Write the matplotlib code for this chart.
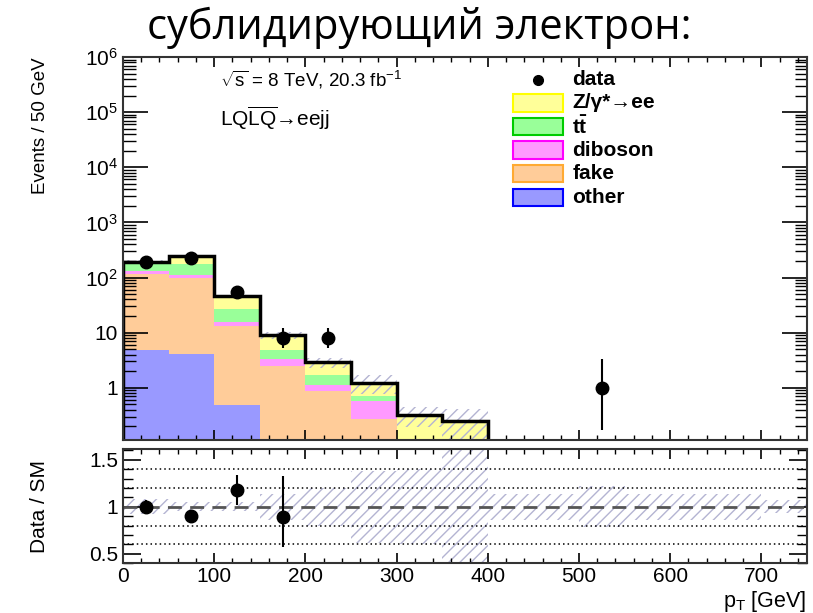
import numpy as np
import matplotlib
matplotlib.use('Agg')
import matplotlib.pyplot as plt
from matplotlib.patches import Rectangle
from matplotlib.ticker import FixedLocator, MultipleLocator, LogLocator, NullFormatter

plt.rcParams['font.family'] = ['Liberation Sans', 'DejaVu Sans']
plt.rcParams['mathtext.fontset'] = 'custom'
plt.rcParams['mathtext.rm'] = 'Liberation Sans'
plt.rcParams['mathtext.it'] = 'Liberation Sans:italic'
plt.rcParams['mathtext.bf'] = 'Liberation Sans:bold'
plt.rcParams['hatch.linewidth'] = 1.0

# binning: 50 GeV bins from 0 to 750
edges = np.arange(0, 800, 50)

# MC backgrounds (8 filled bins, 0-400 GeV), stacked bottom -> top
other   = [4.8, 4.15, 0.48, 0.0, 0.0, 0.0, 0.0, 0.0]
fake    = [113, 94, 12.9, 2.5, 0.86, 0.27, 0.0, 0.0]
diboson = [12, 15, 2.0, 0.8, 0.27, 0.31, 0.0, 0.0]
ttbar   = [56, 65, 11.6, 1.6, 0.59, 0.14, 0.0, 0.0]
zee     = [9, 67, 19, 4.1, 1.18, 0.5, 0.32, 0.25]

# data (15 bins)
data        = [195, 222, 54, 8, 8, 0, 0, 0, 0, 0, 1, 0, 0, 0, 0]
data_err_lo = [14, 15, 7.3, 2.8, 2.8, 0, 0, 0, 0, 0, 0.83, 0, 0, 0, 0]
data_err_hi = [14, 15, 7.3, 3.9, 3.9, 0, 0, 0, 0, 0, 2.3, 0, 0, 0, 0]

# relative systematic uncertainty per bin (15 bins)
rel_unc = [0.08, 0.05, 0.05, 0.14, 0.2, 0.38, 0.4, 0.62,
           0.14, 0.14, 0.22, 0.14, 0.14, 0.14, 0.07]

layers = [('other', other, '#9999ff', '#0000ff'),
          ('fake', fake, '#ffcc99', '#ffaa33'),
          ('diboson', diboson, '#ff99ff', '#ff00ff'),
          (r'$\mathbf{t\bar{t}}$', ttbar, '#99ff99', '#00cc00'),
          ('Z/γ*→ee', zee, '#ffff99', '#ffff00')]

fig = plt.figure(figsize=(8.13, 6.13), dpi=100)
ax = fig.add_axes([123/813, 1-440/613, 684/813, 383/613])
rax = fig.add_axes([123/813, 1-563.3/613, 684/813, 114/613])

# stacked histogram
mc_edges = edges[:9]
bottom = np.full(8, 1e-3)
for name, vals, fc, ec in layers:
    top = bottom + np.array(vals)
    ax.stairs(top, mc_edges, baseline=bottom, fill=True, color=fc, lw=0)
    bottom = top
total = bottom

# uncertainty band
rel8 = np.array(rel_unc[:8])
ax.stairs(total*(1+rel8), mc_edges, baseline=total*(1-rel8), fill=True,
          facecolor='none', edgecolor='#b4b4d2', hatch='///', lw=0)
ax.stairs(total, mc_edges, baseline=1e-3, color='black', lw=2.5)

# data points
centers = (edges[:-1] + edges[1:]) / 2
d = np.array(data, float)
m = d > 0
ax.errorbar(centers[m], d[m], yerr=[np.array(data_err_lo)[m], np.array(data_err_hi)[m]],
            fmt='o', color='black', ms=9, elinewidth=1.5, capsize=0, zorder=5)

ax.set_yscale('log')
ax.set_ylim(0.113, 1e6)
ax.set_xlim(0, 750)
ax.yaxis.set_major_locator(FixedLocator([1, 10, 100, 1e3, 1e4, 1e5, 1e6]))
ax.set_yticklabels(['1', '10', r'$10^{2}$', r'$10^{3}$', r'$10^{4}$', r'$10^{5}$', r'$10^{6}$'])
ax.yaxis.set_minor_locator(LogLocator(base=10, subs=np.arange(2, 10), numticks=20))
ax.yaxis.set_minor_formatter(NullFormatter())
ax.xaxis.set_major_locator(MultipleLocator(100))
ax.xaxis.set_minor_locator(MultipleLocator(20))
ax.tick_params(axis='x', which='both', labelbottom=False)
ax.tick_params(which='both', direction='in', top=True, right=True, labelsize=15)
ax.tick_params(axis='y', which='major', length=18, width=1.2)
ax.tick_params(axis='y', which='minor', length=9, width=1)
ax.tick_params(axis='x', which='major', length=7, width=1.2)
ax.tick_params(axis='x', which='minor', length=3.5, width=1)
ax.set_ylabel('Events / 50 GeV', fontsize=13.5, loc='top')
ax.yaxis.set_label_coords(-0.108, 1)

ax.text(0.142, 0.94, r'$\sqrt{\mathrm{s}}$ = 8 TeV, 20.3 fb$^{\mathregular{-1}}$',
        transform=ax.transAxes, fontsize=13.5, va='center')
ax.text(0.142, 0.84, r'LQ$\overline{\mathrm{LQ}}$→eejj',
        transform=ax.transAxes, fontsize=15, va='center')

# legend drawn by hand
ax.plot([0.606], [0.94], 'o', color='black', ms=7, transform=ax.transAxes)
ax.text(0.657, 0.94, 'data', transform=ax.transAxes, fontsize=15,
        fontweight='bold', va='center')
rows_y = [0.633, 0.695, 0.757, 0.818, 0.880]
for (name, vals, fc, ec), yy in zip(layers, rows_y):
    ax.add_patch(Rectangle((0.570, yy-0.0225), 0.073, 0.045, transform=ax.transAxes,
                           facecolor=fc, edgecolor=ec, lw=1.5))
    ax.text(0.657, yy, name, transform=ax.transAxes, fontsize=15,
            fontweight='bold', va='center')

# ratio panel
rel = np.array(rel_unc)
rax.stairs(1+rel, edges, baseline=1-rel, fill=True, facecolor='none',
           edgecolor='#b4b4d2', hatch='///', lw=0)
for yv in [0.6, 0.8, 1.2, 1.4]:
    rax.axhline(yv, color='black', ls=(0, (1, 2)), lw=1.1)
rax.axhline(1.0, color='#555555', ls=(0, (5, 3)), lw=2)
tot_full = np.zeros(15)
tot_full[:8] = total
ok = (d > 0) & (tot_full > 0.01)
ratio = d[ok] / tot_full[ok]
rax.errorbar(centers[ok], ratio,
             yerr=[np.array(data_err_lo)[ok]/tot_full[ok], np.array(data_err_hi)[ok]/tot_full[ok]],
             fmt='o', color='black', ms=9, elinewidth=1.5, capsize=0, zorder=5)
rax.set_xlim(0, 750)
rax.set_ylim(0.4, 1.61)
rax.yaxis.set_major_locator(FixedLocator([0.5, 1, 1.5]))
rax.set_yticklabels(['0.5', '1', '1.5'])
rax.yaxis.set_minor_locator(MultipleLocator(0.1))
rax.xaxis.set_major_locator(MultipleLocator(100))
rax.xaxis.set_minor_locator(MultipleLocator(20))
rax.tick_params(which='both', direction='in', top=True, right=True, labelsize=15)
rax.tick_params(axis='y', which='major', length=13, width=1.2)
rax.tick_params(axis='y', which='minor', length=7, width=1)
rax.tick_params(axis='x', which='major', length=7, width=1.2, pad=3)
rax.tick_params(axis='x', which='minor', length=3.5, width=1)
rax.set_ylabel('Data / SM', fontsize=15)
rax.yaxis.set_label_coords(-0.108, 0.5)
fig.text(806/813, 1-607/613, r'p$_{\mathregular{T}}$ [GeV]', fontsize=15.5,
         ha='right', va='baseline')

for a in (ax, rax):
    for s in a.spines.values():
        s.set_linewidth(1.5)
        s.set_color('#333333')

fig.text(419/813, 1-28/613, 'сублидирующий электрон:', fontsize=30,
         family=['Open Sans', 'DejaVu Sans'], ha='center', va='center')

fig.savefig('out.png', dpi=100)
